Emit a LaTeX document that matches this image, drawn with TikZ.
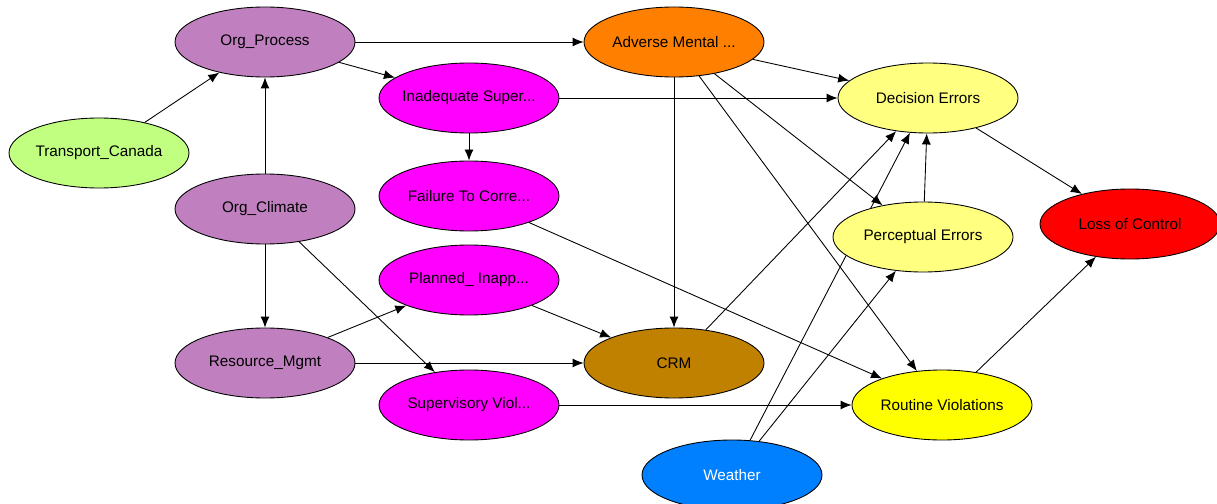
\documentclass[tikz,border=0pt]{standalone}
\usepackage{fontspec}
\setmainfont{Liberation Sans}
\usetikzlibrary{shapes.geometric, arrows.meta, backgrounds}

\definecolor{orgpurple}{RGB}{192,128,192}
\definecolor{canadagreen}{RGB}{192,255,128}
\definecolor{adverseorange}{RGB}{255,128,0}
\definecolor{supermagenta}{RGB}{255,0,255}
\definecolor{erroryellow}{RGB}{255,255,128}
\definecolor{routineyellow}{RGB}{255,255,0}
\definecolor{lossred}{RGB}{255,0,0}
\definecolor{crmbrown}{RGB}{192,128,0}
\definecolor{weatherblue}{RGB}{0,128,255}

\begin{document}
\begin{tikzpicture}[
        bnode/.style={ellipse, draw, line width=0.5pt, inner xsep=-6pt, inner ysep=0pt, minimum width=3.6cm, minimum height=1.4cm, font=\fontsize{8.7}{10}\selectfont},
        link/.style={-{Latex[length=2.2mm, width=1.8mm]}, line width=0.5pt}
    ]
        \clip (0, 0) rectangle (24.34, -10.08);
        \useasboundingbox (0, 0) rectangle (24.34, -10.08);
        \node (orgproc) at (5.30, -0.84) [bnode, fill=orgpurple] {Org\_Process};
        \node (adverse) at (13.48, -0.84) [bnode, fill=adverseorange] {Adverse Mental ...};
        \node (inadeq) at (9.38, -1.96) [bnode, fill=supermagenta] {Inadequate Super...};
        \node (decision) at (18.56, -1.96) [bnode, fill=erroryellow] {Decision Errors};
        \node (transport) at (1.98, -3.06) [bnode, fill=canadagreen] {Transport\_Canada};
        \node (failure) at (9.38, -3.92) [bnode, fill=supermagenta] {Failure To Corre...};
        \node (orgclim) at (5.30, -4.18) [bnode, fill=orgpurple] {Org\_Climate};
        \node (percept) at (18.46, -4.74) [bnode, fill=erroryellow] {Perceptual Errors};
        \node (loss) at (22.60, -4.48) [bnode, fill=lossred] {Loss of Control};
        \node (planned) at (9.38, -5.60) [bnode, fill=supermagenta] {Planned\_ Inapp...};
        \node (resource) at (5.30, -7.26) [bnode, fill=orgpurple] {Resource\_Mgmt};
        \node (crm) at (13.48, -7.26) [bnode, fill=crmbrown] {CRM};
        \node (superv) at (9.38, -8.10) [bnode, fill=supermagenta] {Supervisory Viol...};
        \node (routine) at (18.84, -8.10) [bnode, fill=routineyellow] {Routine Violations};
        \node (weather) at (14.64, -9.50) [bnode, fill=weatherblue, text=white] {Weather};
        \begin{scope}[on background layer]
        \draw[link] (transport) -- (orgproc);
        \draw[link] (orgclim) -- (orgproc);
        \draw[link] (orgproc) -- (adverse);
        \draw[link] (orgproc) -- (inadeq);
        \draw[link] (orgclim) -- (resource);
        \draw[link] (orgclim) -- (superv);
        \draw[link] (resource) -- (planned);
        \draw[link] (resource) -- (crm);
        \draw[link] (inadeq) -- (failure);
        \draw[link] (inadeq) -- (decision);
        \draw[link] (adverse) -- (decision);
        \draw[link] (adverse) -- (crm);
        \draw[link] (adverse) -- (percept);
        \draw[link] (adverse) -- (routine);
        \draw[link] (planned) -- (crm);
        \draw[link] (failure) -- (routine);
        \draw[link] (superv) -- (routine);
        \draw[link] (crm) -- (decision);
        \draw[link] (percept) -- (decision);
        \draw[link] (weather) -- (decision);
        \draw[link] (weather) -- (percept);
        \draw[link] (decision) -- (loss);
        \draw[link] (routine) -- (loss);
        \end{scope}
    \end{tikzpicture}
\end{document}
